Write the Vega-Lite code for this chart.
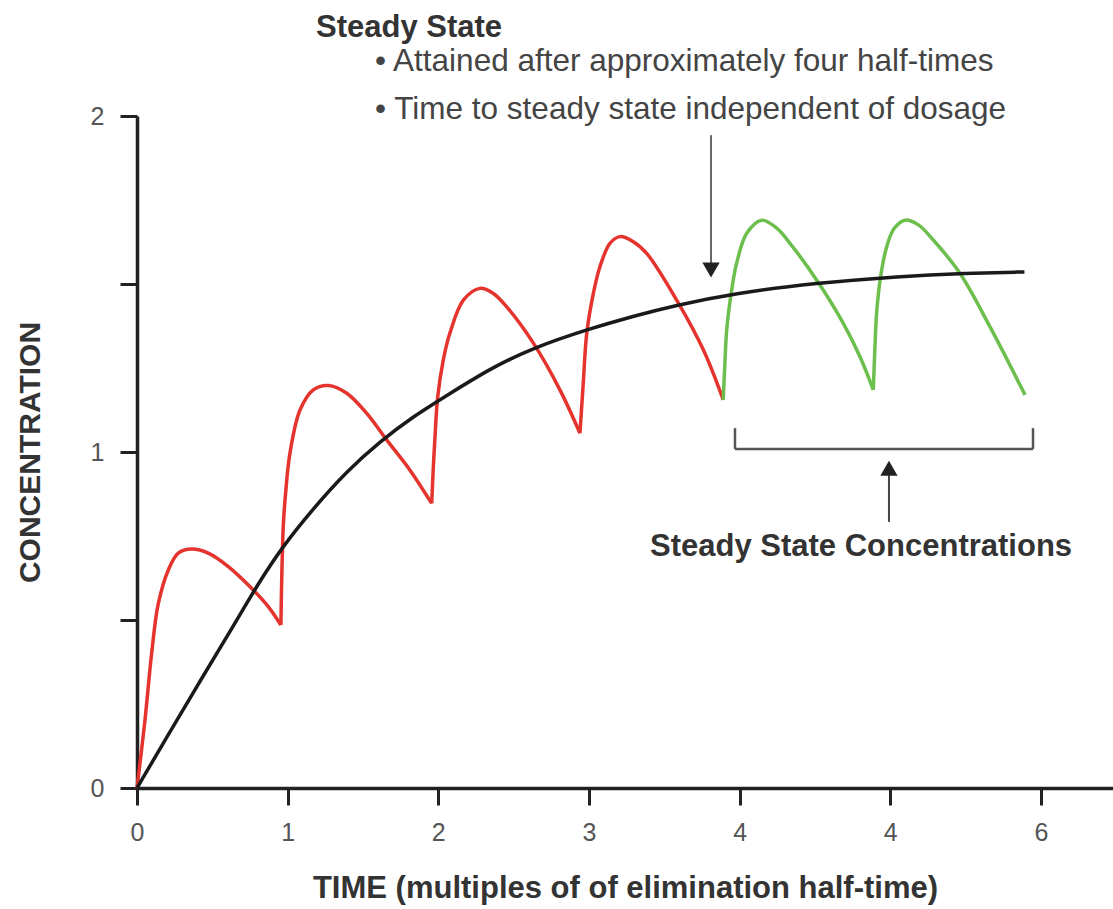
{
  "$schema": "https://vega.github.io/schema/vega-lite/v6.json",
  "width": 976,
  "height": 672,
  "autosize": "none",
  "padding": {"left": 137, "top": 116, "right": 0, "bottom": 121},
  "background": "white",
  "config": {
    "view": {"stroke": null},
    "font": "Liberation Sans",
    "axis": {"grid": false}
  },
  "datasets": {
    "curves": [
      {"kind": "dose", "seg": "d1", "t": 0, "c": 0},
      {"kind": "dose", "seg": "d1", "t": 0.053, "c": 0.202},
      {"kind": "dose", "seg": "d1", "t": 0.097, "c": 0.4},
      {"kind": "dose", "seg": "d1", "t": 0.141, "c": 0.548},
      {"kind": "dose", "seg": "d1", "t": 0.208, "c": 0.649},
      {"kind": "dose", "seg": "d1", "t": 0.274, "c": 0.699},
      {"kind": "dose", "seg": "d1", "t": 0.363, "c": 0.711},
      {"kind": "dose", "seg": "d1", "t": 0.473, "c": 0.699},
      {"kind": "dose", "seg": "d1", "t": 0.606, "c": 0.659},
      {"kind": "dose", "seg": "d1", "t": 0.739, "c": 0.604},
      {"kind": "dose", "seg": "d1", "t": 0.871, "c": 0.54},
      {"kind": "dose", "seg": "d1", "t": 0.955, "c": 0.485},
      {"kind": "dose", "seg": "d2", "t": 0.955, "c": 0.485},
      {"kind": "dose", "seg": "d2", "t": 0.962, "c": 0.65},
      {"kind": "dose", "seg": "d2", "t": 0.972, "c": 0.79},
      {"kind": "dose", "seg": "d2", "t": 0.985, "c": 0.87},
      {"kind": "dose", "seg": "d2", "t": 1.015, "c": 0.996},
      {"kind": "dose", "seg": "d2", "t": 1.082, "c": 1.125},
      {"kind": "dose", "seg": "d2", "t": 1.17, "c": 1.185},
      {"kind": "dose", "seg": "d2", "t": 1.27, "c": 1.198},
      {"kind": "dose", "seg": "d2", "t": 1.392, "c": 1.175},
      {"kind": "dose", "seg": "d2", "t": 1.525, "c": 1.115},
      {"kind": "dose", "seg": "d2", "t": 1.657, "c": 1.036},
      {"kind": "dose", "seg": "d2", "t": 1.812, "c": 0.946},
      {"kind": "dose", "seg": "d2", "t": 1.956, "c": 0.847},
      {"kind": "dose", "seg": "d3", "t": 1.956, "c": 0.847},
      {"kind": "dose", "seg": "d3", "t": 1.967, "c": 0.956},
      {"kind": "dose", "seg": "d3", "t": 1.978, "c": 1.045},
      {"kind": "dose", "seg": "d3", "t": 1.995, "c": 1.16},
      {"kind": "dose", "seg": "d3", "t": 2.033, "c": 1.274},
      {"kind": "dose", "seg": "d3", "t": 2.077, "c": 1.354},
      {"kind": "dose", "seg": "d3", "t": 2.166, "c": 1.452},
      {"kind": "dose", "seg": "d3", "t": 2.277, "c": 1.487},
      {"kind": "dose", "seg": "d3", "t": 2.365, "c": 1.472},
      {"kind": "dose", "seg": "d3", "t": 2.454, "c": 1.432},
      {"kind": "dose", "seg": "d3", "t": 2.631, "c": 1.324},
      {"kind": "dose", "seg": "d3", "t": 2.807, "c": 1.185},
      {"kind": "dose", "seg": "d3", "t": 2.94, "c": 1.056},
      {"kind": "dose", "seg": "d4", "t": 2.94, "c": 1.056},
      {"kind": "dose", "seg": "d4", "t": 2.962, "c": 1.205},
      {"kind": "dose", "seg": "d4", "t": 2.985, "c": 1.353},
      {"kind": "dose", "seg": "d4", "t": 3.029, "c": 1.472},
      {"kind": "dose", "seg": "d4", "t": 3.073, "c": 1.552},
      {"kind": "dose", "seg": "d4", "t": 3.139, "c": 1.621},
      {"kind": "dose", "seg": "d4", "t": 3.206, "c": 1.641},
      {"kind": "dose", "seg": "d4", "t": 3.294, "c": 1.626},
      {"kind": "dose", "seg": "d4", "t": 3.383, "c": 1.591},
      {"kind": "dose", "seg": "d4", "t": 3.582, "c": 1.452},
      {"kind": "dose", "seg": "d4", "t": 3.759, "c": 1.304},
      {"kind": "dose", "seg": "d4", "t": 3.891, "c": 1.155},
      {"kind": "steady", "seg": "s1", "t": 3.891, "c": 1.155},
      {"kind": "steady", "seg": "s1", "t": 3.902, "c": 1.264},
      {"kind": "steady", "seg": "s1", "t": 3.914, "c": 1.363},
      {"kind": "steady", "seg": "s1", "t": 3.947, "c": 1.482},
      {"kind": "steady", "seg": "s1", "t": 3.98, "c": 1.562},
      {"kind": "steady", "seg": "s1", "t": 4.047, "c": 1.651},
      {"kind": "steady", "seg": "s1", "t": 4.146, "c": 1.69},
      {"kind": "steady", "seg": "s1", "t": 4.246, "c": 1.666},
      {"kind": "steady", "seg": "s1", "t": 4.334, "c": 1.621},
      {"kind": "steady", "seg": "s1", "t": 4.511, "c": 1.512},
      {"kind": "steady", "seg": "s1", "t": 4.688, "c": 1.383},
      {"kind": "steady", "seg": "s1", "t": 4.798, "c": 1.284},
      {"kind": "steady", "seg": "s1", "t": 4.887, "c": 1.185},
      {"kind": "steady", "seg": "s2", "t": 4.887, "c": 1.185},
      {"kind": "steady", "seg": "s2", "t": 4.898, "c": 1.313},
      {"kind": "steady", "seg": "s2", "t": 4.909, "c": 1.413},
      {"kind": "steady", "seg": "s2", "t": 4.935, "c": 1.52},
      {"kind": "steady", "seg": "s2", "t": 4.976, "c": 1.611},
      {"kind": "steady", "seg": "s2", "t": 5.025, "c": 1.665},
      {"kind": "steady", "seg": "s2", "t": 5.097, "c": 1.69},
      {"kind": "steady", "seg": "s2", "t": 5.186, "c": 1.676},
      {"kind": "steady", "seg": "s2", "t": 5.285, "c": 1.631},
      {"kind": "steady", "seg": "s2", "t": 5.462, "c": 1.532},
      {"kind": "steady", "seg": "s2", "t": 5.661, "c": 1.373},
      {"kind": "steady", "seg": "s2", "t": 5.894, "c": 1.17},
      {"kind": "mean", "seg": "m", "t": 0, "c": 0},
      {"kind": "mean", "seg": "m", "t": 0.2, "c": 0.153},
      {"kind": "mean", "seg": "m", "t": 0.43, "c": 0.327},
      {"kind": "mean", "seg": "m", "t": 0.65, "c": 0.49},
      {"kind": "mean", "seg": "m", "t": 0.8, "c": 0.605},
      {"kind": "mean", "seg": "m", "t": 0.96, "c": 0.715},
      {"kind": "mean", "seg": "m", "t": 1.17, "c": 0.832},
      {"kind": "mean", "seg": "m", "t": 1.39, "c": 0.942},
      {"kind": "mean", "seg": "m", "t": 1.61, "c": 1.03},
      {"kind": "mean", "seg": "m", "t": 1.83, "c": 1.105},
      {"kind": "mean", "seg": "m", "t": 2.08, "c": 1.175},
      {"kind": "mean", "seg": "m", "t": 2.35, "c": 1.25},
      {"kind": "mean", "seg": "m", "t": 2.63, "c": 1.31},
      {"kind": "mean", "seg": "m", "t": 2.99, "c": 1.365},
      {"kind": "mean", "seg": "m", "t": 3.3, "c": 1.405},
      {"kind": "mean", "seg": "m", "t": 3.56, "c": 1.435},
      {"kind": "mean", "seg": "m", "t": 3.96, "c": 1.472},
      {"kind": "mean", "seg": "m", "t": 4.51, "c": 1.503},
      {"kind": "mean", "seg": "m", "t": 5.06, "c": 1.523},
      {"kind": "mean", "seg": "m", "t": 5.5, "c": 1.532},
      {"kind": "mean", "seg": "m", "t": 5.89, "c": 1.536}
    ]
  },
  "layer": [
    {
      "data": {"name": "curves"},
      "transform": [{"filter": "datum.kind != 'mean'"}],
      "mark": {"type": "line", "interpolate": "catmull-rom", "strokeWidth": 3.5},
      "encoding": {
        "x": {
          "field": "t", "type": "quantitative",
          "scale": {"domain": [0, 6.478], "nice": false, "zero": false},
          "axis": {
            "values": [0, 1, 2, 3, 4, 5, 6],
            "labelExpr": "datum.value == 5 ? '4' : format(datum.value, 'd')",
            "title": "TIME (multiples of of elimination half-time)",
            "titleFont": "Liberation Sans", "titleFontSize": 31, "titleFontWeight": "bold",
            "titleColor": "#333", "titlePadding": 28,
            "labelFont": "Liberation Sans", "labelFontSize": 25, "labelColor": "#555",
            "labelPadding": 15, "labelFlush": false,
            "domainColor": "#222", "domainWidth": 3.5,
            "tickColor": "#222", "tickWidth": 3, "tickSize": 17
          }
        },
        "y": {
          "field": "c", "type": "quantitative",
          "scale": {"domain": [0, 2], "nice": false},
          "axis": {
            "values": [0, 0.5, 1, 1.5, 2],
            "labelExpr": "datum.value % 1 == 0 ? format(datum.value, 'd') : ''",
            "title": "CONCENTRATION",
            "titleFont": "Liberation Sans", "titleFontSize": 30, "titleFontWeight": "bold",
            "titleColor": "#333", "titlePadding": 45,
            "labelFont": "Liberation Sans", "labelFontSize": 25, "labelColor": "#555",
            "labelPadding": 16, "labelFlush": false,
            "domainColor": "#222", "domainWidth": 3.5,
            "tickColor": "#222", "tickWidth": 3, "tickSize": 17
          }
        },
        "detail": {"field": "seg"},
        "color": {
          "field": "kind", "type": "nominal",
          "scale": {"domain": ["dose", "steady"], "range": ["#e5332d", "#6cbf4c"]},
          "legend": null
        }
      }
    },
    {
      "data": {"name": "curves"},
      "transform": [{"filter": "datum.kind == 'mean'"}],
      "mark": {"type": "line", "interpolate": "basis", "strokeWidth": 3.5, "color": "#1a1a1a"},
      "encoding": {
        "x": {"field": "t", "type": "quantitative"},
        "y": {"field": "c", "type": "quantitative"}
      }
    },
    {
      "data": {"values": [{}]},
      "mark": {"type": "rule", "color": "#666", "strokeWidth": 2},
      "encoding": {
        "x": {"datum": 3.81, "type": "quantitative"},
        "y": {"datum": 1.943, "type": "quantitative"},
        "y2": {"datum": 1.56}
      }
    },
    {
      "data": {"values": [{}]},
      "mark": {"type": "point", "shape": "triangle-down", "filled": true, "opacity": 1, "color": "#222", "size": 300},
      "encoding": {
        "x": {"datum": 3.81, "type": "quantitative"},
        "y": {"datum": 1.542, "type": "quantitative"}
      }
    },
    {
      "data": {"values": [{}]},
      "mark": {"type": "rule", "color": "#555", "strokeWidth": 2.5},
      "encoding": {
        "x": {"datum": 3.969, "type": "quantitative"},
        "y": {"datum": 1.071, "type": "quantitative"},
        "y2": {"datum": 1.009}
      }
    },
    {
      "data": {"values": [{}]},
      "mark": {"type": "rule", "color": "#555", "strokeWidth": 2.5},
      "encoding": {
        "x": {"datum": 5.947, "type": "quantitative"},
        "y": {"datum": 1.071, "type": "quantitative"},
        "y2": {"datum": 1.009}
      }
    },
    {
      "data": {"values": [{}]},
      "mark": {"type": "rule", "color": "#555", "strokeWidth": 2.5},
      "encoding": {
        "x": {"datum": 3.969, "type": "quantitative"},
        "x2": {"datum": 5.947},
        "y": {"datum": 1.009, "type": "quantitative"}
      }
    },
    {
      "data": {"values": [{}]},
      "mark": {"type": "rule", "color": "#444", "strokeWidth": 2},
      "encoding": {
        "x": {"datum": 4.991, "type": "quantitative"},
        "y": {"datum": 0.792, "type": "quantitative"},
        "y2": {"datum": 0.94}
      }
    },
    {
      "data": {"values": [{}]},
      "mark": {"type": "point", "shape": "triangle-up", "filled": true, "opacity": 1, "color": "#222", "size": 300},
      "encoding": {
        "x": {"datum": 4.991, "type": "quantitative"},
        "y": {"datum": 0.952, "type": "quantitative"}
      }
    },
    {
      "data": {"values": [{}]},
      "mark": {"type": "text", "text": "Steady State", "align": "left", "baseline": "middle", "font": "Liberation Sans", "fontSize": 31, "fontWeight": "bold", "color": "#333"},
      "encoding": {
        "x": {"datum": 1.188, "type": "quantitative"},
        "y": {"datum": 2.262, "type": "quantitative"}
      }
    },
    {
      "data": {"values": [{}]},
      "mark": {"type": "text", "text": "• Attained after approximately four half-times", "align": "left", "baseline": "middle", "font": "Liberation Sans", "fontSize": 31.5, "color": "#444"},
      "encoding": {
        "x": {"datum": 1.58, "type": "quantitative"},
        "y": {"datum": 2.161, "type": "quantitative"}
      }
    },
    {
      "data": {"values": [{}]},
      "mark": {"type": "text", "text": "• Time to steady state independent of dosage", "align": "left", "baseline": "middle", "font": "Liberation Sans", "fontSize": 31.5, "color": "#444"},
      "encoding": {
        "x": {"datum": 1.58, "type": "quantitative"},
        "y": {"datum": 2.018, "type": "quantitative"}
      }
    },
    {
      "data": {"values": [{}]},
      "mark": {"type": "text", "text": "Steady State Concentrations", "align": "left", "baseline": "middle", "font": "Liberation Sans", "fontSize": 31, "fontWeight": "bold", "color": "#333"},
      "encoding": {
        "x": {"datum": 3.405, "type": "quantitative"},
        "y": {"datum": 0.717, "type": "quantitative"}
      }
    }
  ]
}
